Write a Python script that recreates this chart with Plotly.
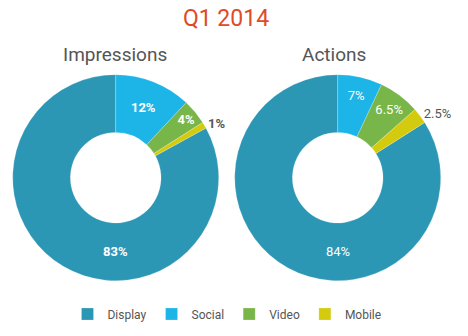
import plotly.graph_objects as go

categories = ["Display", "Social", "Video", "Mobile"]
impressions = [83, 12, 4, 1]
actions = [84, 7, 6.5, 2.5]
impr_labels = ["83%", "12%", "4%", "1%"]
act_labels = ["84%", "7%", "6.5%", "2.5%"]
colors = ["#2b97b5", "#1db5e8", "#78b649", "#d4cb0e"]

W, H = 468, 336
HOLE = 0.44
FAM = "Roboto"
DOM_Y = [55.3 / H, 261.3 / H]


def rot(vals):
    # Display slice ends at 12 o'clock; the others follow clockwise
    return 360.0 * (sum(vals) - vals[0]) / sum(vals)


def pie(vals, texts, dom_x, bold):
    wt = "bold" if bold else "normal"
    return go.Pie(
        labels=categories,
        values=vals,
        text=[""] + texts[1:],
        textinfo="text",
        sort=False,
        direction="clockwise",
        rotation=rot(vals),
        hole=HOLE,
        marker=dict(colors=colors, line=dict(color="rgba(255,255,255,0.4)", width=0.5)),
        textposition=["inside", "inside", "inside", "outside"],
        insidetextorientation="horizontal",
        insidetextfont=dict(color="white", size=13, family=FAM, weight=wt),
        outsidetextfont=dict(color="#555555", size=13, family=FAM, weight=wt),
        domain=dict(x=dom_x, y=DOM_Y),
        hoverinfo="label+percent",
    )


def big_label(text, dom_x, bold):
    # label of the large slice, set at the bottom of the ring
    r_px = (dom_x[1] - dom_x[0]) * W / 2
    cx = (dom_x[0] + dom_x[1]) / 2
    cy = (DOM_Y[0] + DOM_Y[1]) / 2
    y = cy - (1 + HOLE) / 2 * r_px / H
    return dict(text=text, x=cx, y=y, xref="paper", yref="paper", showarrow=False,
                xanchor="center", yanchor="middle",
                font=dict(family=FAM, size=13, color="white",
                          weight="bold" if bold else "normal"))


dom_left = [12.7 / W, 218.7 / W]
dom_right = [234.7 / W, 440.7 / W]

fig = go.Figure()
fig.add_trace(pie(impressions, impr_labels, dom_left, True))
fig.add_trace(pie(actions, act_labels, dom_right, False))

fig.update_layout(
    width=W,
    height=H,
    margin=dict(l=0, r=0, t=0, b=0),
    paper_bgcolor="white",
    plot_bgcolor="white",
    title=dict(
        text="Q1 2014",
        x=226 / W,
        xanchor="center",
        y=1 - 18 / H,
        yanchor="middle",
        font=dict(family=FAM, size=23, color="#e04a27"),
    ),
    annotations=[
        dict(text="Impressions", x=115 / W, y=1 - 55 / H, xref="paper", yref="paper",
             showarrow=False, xanchor="center", yanchor="middle",
             font=dict(family=FAM, size=19, color="#555555")),
        dict(text="Actions", x=334 / W, y=1 - 55 / H, xref="paper", yref="paper",
             showarrow=False, xanchor="center", yanchor="middle",
             font=dict(family=FAM, size=19, color="#555555")),
        big_label(impr_labels[0], dom_left, True),
        big_label(act_labels[0], dom_right, False),
    ],
    legend=dict(
        orientation="h",
        x=0.485,
        xanchor="center",
        y=22 / H,
        yanchor="middle",
        font=dict(family=FAM, size=12, color="#555555"),
        traceorder="normal",
    ),
    showlegend=True,
)

fig.write_html("out.html")
